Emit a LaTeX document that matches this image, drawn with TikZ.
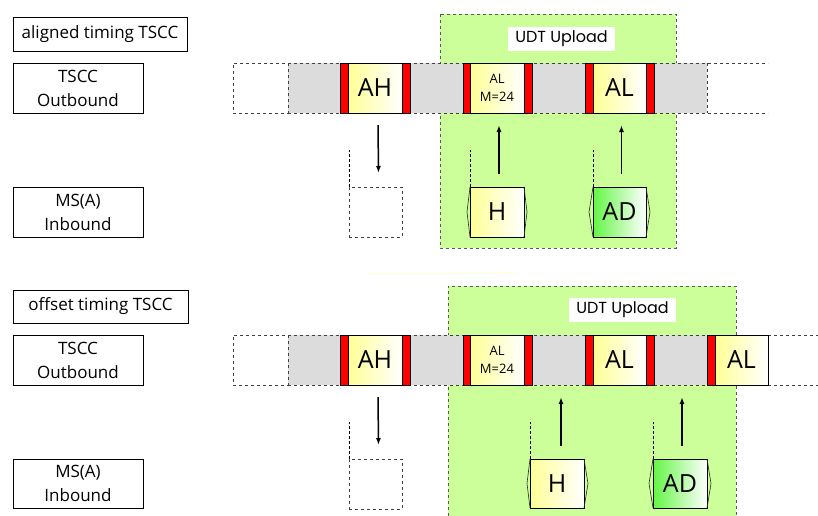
\documentclass[tikz,border=0pt]{standalone}
\usepackage{fontspec}
\setmainfont{Open Sans}
\newfontfamily\udtfont{Poppins}
\usetikzlibrary{arrows.meta}
\definecolor{greenbg}{RGB}{204,255,153}
\definecolor{slotgrey}{RGB}{220,220,220}
\definecolor{yel}{RGB}{255,255,150}
\definecolor{grn}{RGB}{100,245,70}
\definecolor{faint}{RGB}{255,255,215}
\tikzset{
  box/.style={inner sep=0pt, anchor=north west, outer sep=0pt},
  lbl/.style={box, draw=black, line width=0.8pt, align=center, font=\fontsize{17}{24}\selectfont},
  greenreg/.style={draw=black!65, dashed, line width=0.7pt},
  dline/.style={draw=black!75, dashed, line width=0.8pt},
  redbar/.style={box, fill=red, draw=black, line width=0.6pt, minimum width=8pt, minimum height=50pt},
  msgbox/.style={box, draw=black, line width=0.8pt, left color=yel, right color=white, minimum width=54pt, minimum height=50pt, align=center, font=\fontsize{25}{25}\selectfont},
  msgsmall/.style={msgbox, font=\fontsize{13}{18}\selectfont},
  msboxg/.style={msgbox, left color=grn},
  phbox/.style={box, dline, minimum width=53pt, minimum height=50pt},
  udt/.style={box, fill=white, minimum width=107pt, minimum height=24pt, font=\udtfont\fontsize{16}{16}\selectfont},
  arr/.style={line width=1.5pt, -{Latex[length=7pt,width=5pt]}},
  hexside/.style={draw=black!85, line width=0.6pt},
  vdash/.style={draw=black, line width=0.7pt, dash pattern=on 3pt off 2pt}
}
\begin{document}
\begin{tikzpicture}[x=1pt,y=-1pt]
\useasboundingbox (0,0) rectangle (818,515);

% ---------------- TOP PANEL ----------------
\fill[greenbg] (440,14) rectangle (676,248);
\draw[greenreg] (440,14) rectangle (676,248);
\node[udt] (udt1) at (508,27) {UDT Upload};

% timeline top y 63..113
\fill[slotgrey] (288,63) rectangle (707,113);
\node[box, dline, minimum width=55pt, minimum height=50pt] (w1) at (233,63) {};
\draw[dline] (288,63) -- (768,63);
\draw[dline] (288,113) -- (768,113);
\draw[dline] (707,63) -- (707,113);
\node[redbar] (r1) at (340,63) {};
\node[redbar] (r2) at (402,63) {};
\node[redbar] (r3) at (463,63) {};
\node[redbar] (r4) at (524,63) {};
\node[redbar] (r5) at (585,63) {};
\node[redbar] (r6) at (646,63) {};
\node[msgbox] (ah1) at (348,63) {AH};
\node[msgsmall] (alm1) at (470,63) {AL\\M=24};
\node[msgbox, minimum width=53pt] (al1) at (593,63) {AL};

% MS inbound top
\node[phbox] (ph1) at (349,187) {};
\draw[vdash] (ph1.north west) -- ++(0,-37);
\node[msgbox] (h1) at (470,187) {H};
\node[msboxg, minimum width=53pt] (ad1) at (593,187) {AD};
\draw[vdash] (h1.north west) -- ++(0,-37);
\draw[vdash] (ad1.north west) -- ++(0,-37);
\draw[hexside] (h1.north west) -- ([xshift=-3pt]h1.west) -- (h1.south west);
\draw[hexside] (h1.north east) -- ([xshift=3pt]h1.east) -- (h1.south east);
\draw[hexside] (ad1.north west) -- ([xshift=-4pt]ad1.west) -- (ad1.south west);
\draw[hexside] (ad1.north east) -- ([xshift=4pt]ad1.east) -- (ad1.south east);

\draw[arr] ([xshift=3pt,yshift=-12pt]ah1.south) -- ([xshift=3pt,yshift=14pt]ph1.north);
\draw[arr] ([xshift=2pt,yshift=13pt]h1.north) -- ([xshift=2pt,yshift=-12pt]alm1.south);
\draw[arr] ([xshift=2pt,yshift=13pt]ad1.north) -- ([xshift=2pt,yshift=-12pt]al1.south);

% labels top
\node[lbl, minimum width=174pt, minimum height=34pt] (lab1) at (13,17) {aligned timing TSCC};
\node[lbl, minimum width=130pt, minimum height=50pt] (out1) at (13,63) {TSCC\\Outbound};
\node[lbl, minimum width=130pt, minimum height=50pt] (in1) at (13,187) {MS(A)\\Inbound};

% faint separator
\draw[faint, line width=1pt] (365,273) -- (516,273);

% ---------------- BOTTOM PANEL ----------------
\fill[greenbg] (448,286) rectangle (736,516);
\draw[greenreg] (448,516) -- (448,286) -- (736,286) -- (736,516);
\node[udt] (udt2) at (569,298) {UDT Upload};

% timeline bottom y 335..385
\fill[slotgrey] (288,335) rectangle (707,385);
\node[box, dline, minimum width=55pt, minimum height=50pt] (w2) at (233,335) {};
\draw[dline] (288,335) -- (818,335);
\draw[dline] (288,385) -- (818,385);
\node[redbar] (s1) at (340,335) {};
\node[redbar] (s2) at (402,335) {};
\node[redbar] (s3) at (463,335) {};
\node[redbar] (s4) at (524,335) {};
\node[redbar] (s5) at (585,335) {};
\node[redbar] (s6) at (646,335) {};
\node[redbar] (s7) at (707,335) {};
\node[msgbox] (ah2) at (348,335) {AH};
\node[msgsmall] (alm2) at (470,335) {AL\\M=24};
\node[msgbox, minimum width=53pt] (al2) at (593,335) {AL};
\node[msgbox, minimum width=53pt] (al3) at (715,335) {AL};

% MS inbound bottom
\node[phbox] (ph2) at (349,459) {};
\draw[vdash] (ph2.north west) -- ++(0,-37);
\node[msgbox, minimum height=49pt] (h2) at (530,459) {H};
\node[msboxg, minimum height=49pt] (ad2) at (653,459) {AD};
\draw[vdash] (h2.north west) -- ++(0,-37);
\draw[vdash] (ad2.north west) -- ++(0,-37);
\draw[hexside] (h2.north west) -- ([xshift=-3pt]h2.west) -- (h2.south west);
\draw[hexside] (h2.north east) -- ([xshift=4pt]h2.east) -- (h2.south east);
\draw[hexside] (ad2.north west) -- ([xshift=-4pt]ad2.west) -- (ad2.south west);
\draw[hexside] (ad2.north east) -- ([xshift=4pt]ad2.east) -- (ad2.south east);

\coordinate (t2) at (561,397);
\coordinate (t3) at (682,397);
\draw[arr] ([xshift=3pt,yshift=-12pt]ah2.south) -- ([xshift=3pt,yshift=14pt]ph2.north);
\draw[arr] ([xshift=4pt,yshift=13pt]h2.north) -- (t2);
\draw[arr] ([xshift=2pt,yshift=13pt]ad2.north) -- (t3);

% labels bottom
\node[lbl, minimum width=175pt, minimum height=33pt] (lab2) at (13,290) {offset timing TSCC};
\node[lbl, minimum width=130pt, minimum height=50pt] (out2) at (13,335) {TSCC\\Outbound};
\node[lbl, minimum width=130pt, minimum height=49pt] (in2) at (13,459) {MS(A)\\Inbound};
\end{tikzpicture}
\end{document}
